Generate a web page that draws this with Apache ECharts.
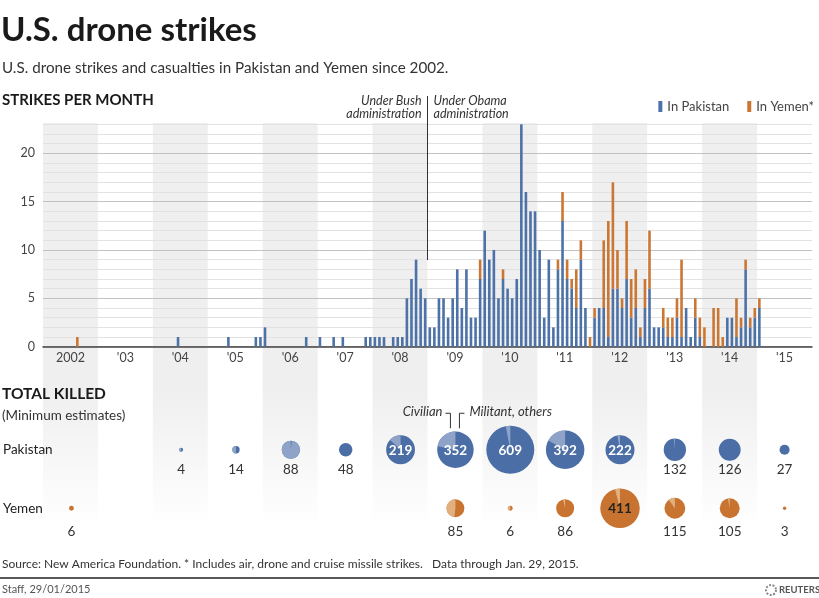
<!DOCTYPE html>
<html><head><meta charset="utf-8">
<script src="https://cdn.jsdelivr.net/npm/echarts@6/dist/echarts.min.js"></script>
<style>html,body{margin:0;padding:0;background:#fff}#c{width:819px;height:598px}</style>
</head><body><div id="c"></div>
<script>
// ---------- DATA ----------
const yearLabels = ['2002', "'03", "'04", "'05", "'06", "'07", "'08", "'09", "'10", "'11", "'12", "'13", "'14", "'15"];
// Strikes per month, Jan 2002 .. Dec 2015 (one row per year)
const pakistanStrikes = [
  0,0,0,0,0,0,0,0,0,0,0,0,        // 2002
  0,0,0,0,0,0,0,0,0,0,0,0,        // 2003
  0,0,0,0,0,1,0,0,0,0,0,0,        // 2004
  0,0,0,0,1,0,0,0,0,0,1,1,        // 2005
  2,0,0,0,0,0,0,0,0,1,0,0,        // 2006
  1,0,0,1,0,1,0,0,0,0,1,1,        // 2007
  1,1,1,0,1,1,1,5,7,9,6,5,        // 2008
  2,2,5,5,3,5,8,4,8,3,3,7,        // 2009
  12,9,10,5,7,6,5,7,23,16,14,14,  // 2010
  10,3,9,2,8,13,7,6,4,9,4,0,      // 2011
  3,4,4,1,6,6,4,7,3,4,1,4,        // 2012
  6,2,2,2,1,1,3,1,4,1,3,1,        // 2013
  0,0,0,0,0,3,3,1,2,8,2,3,        // 2014
  4,0,0,0,0,0,0,0,0,0,0,0         // 2015
];
const yemenStrikes = [
  0,0,0,0,0,0,0,1,0,0,0,0,        // 2002
  0,0,0,0,0,0,0,0,0,0,0,0,        // 2003
  0,0,0,0,0,0,0,0,0,0,0,0,        // 2004
  0,0,0,0,0,0,0,0,0,0,0,0,        // 2005
  0,0,0,0,0,0,0,0,0,0,0,0,        // 2006
  0,0,0,0,0,0,0,0,0,0,0,0,        // 2007
  0,0,0,0,0,0,0,0,0,0,0,0,        // 2008
  0,0,0,0,0,0,0,0,0,0,0,2,        // 2009
  0,0,0,0,1,0,0,0,0,0,0,0,        // 2010
  0,0,0,0,1,3,2,1,4,2,0,1,        // 2011
  1,0,7,12,11,4,1,6,4,4,1,3,      // 2012
  6,0,0,2,2,2,2,8,0,0,2,2,        // 2013
  2,0,4,4,1,0,0,4,1,1,1,1,        // 2014
  1,0,0,0,0,0,0,0,0,0,0,0         // 2015
];
const yTickLabels = [0, 5, 10, 15, 20];
// Total killed per year (minimum estimates) and civilian share
const killedRows = ['Pakistan', 'Yemen'];
const pakistanKilled   = [null, null, 4, 14, 88, 48, 219, 352, 609, 392, 222, 132, 126, 27];
const pakistanCivShare = [0, 0, 0.5, 0.5, 0.985, 0, 0.13, 0.22, 0.03, 0.17, 0.03, 0.015, 0, 0];
const yemenKilled      = [6, null, null, null, null, null, null, 85, 6, 86, 411, 115, 105, 3];
const yemenCivShare    = [0, 0, 0, 0, 0, 0, 0, 0.48, 0.5, 0.04, 0.04, 0.1, 0.03, 0];

// ---------- BUILD ----------
const monthCats = [];
for (let y = 2002; y <= 2015; y++) for (let m = 1; m <= 12; m++) monthCats.push(y + '-' + m);
const bandData = yearLabels.map((_, i) => (i % 2 === 0 ? 1 : 0));
const bubbleData = [];
pakistanKilled.forEach((v, i) => { if (v) bubbleData.push([i, 0, v, pakistanCivShare[i]]); });
yemenKilled.forEach((v, i) => { if (v) bubbleData.push([i, 1, v, yemenCivShare[i]]); });

const BLUE = '#4d72a8', ORANGE = '#cb7733';
const FONT = 'Lato, "Open Sans", sans-serif';
const L = 43, R = 7;

const chart = echarts.init(document.getElementById('c'), null, { renderer: 'canvas' });

const bandGrad = new echarts.graphic.LinearGradient(0, 0, 0, 1, [
  { offset: 0, color: '#efefef' }, { offset: 0.66, color: '#efefef' }, { offset: 1, color: '#ffffff' }
]);

chart.setOption({
  animation: false,
  textStyle: { fontFamily: FONT },
  grid: [
    { left: L, right: R, top: 123, bottom: 598 - 528 },   // bands
    { left: L, right: R, top: 124.3, bottom: 598 - 346.7 }, // bars
    { left: L, right: R, top: 420.5, height: 117 }          // bubbles
  ],
  legend: {
    data: ['In Pakistan', 'In Yemen*'], right: 0, top: 95, icon: 'rect',
    itemWidth: 4, itemHeight: 11, itemGap: 18,
    textStyle: { fontSize: 13, color: '#444', fontFamily: FONT }
  },
  xAxis: [
    { gridIndex: 0, type: 'category', data: yearLabels, show: false },
    { gridIndex: 1, type: 'category', data: monthCats, z: 3,
      axisLine: { lineStyle: { color: '#444', width: 1.5 } }, axisTick: { show: false }, axisLabel: { show: false } },
    { gridIndex: 1, type: 'category', data: yearLabels, position: 'bottom', z: 3,
      axisLine: { show: false }, axisTick: { show: false },
      axisLabel: { margin: 5, fontSize: 12.5, color: '#444', fontFamily: FONT } },
    { gridIndex: 2, type: 'category', data: yearLabels, show: false }
  ],
  yAxis: [
    { gridIndex: 0, type: 'value', min: 0, max: 1, show: false },
    { gridIndex: 1, type: 'value', min: 0, max: 23, interval: 1, z: 1, position: 'left',
      axisLine: { show: false }, axisTick: { show: false }, axisLabel: { show: false },
      splitLine: { lineStyle: { color: '#e2e2e2', width: 1 } } },
    { gridIndex: 1, type: 'value', min: 0, max: 23, interval: 5, z: 2, position: 'left',
      axisLine: { show: false }, axisTick: { show: false },
      axisLabel: { margin: 8, fontSize: 12.5, color: '#444', fontFamily: FONT,
        formatter: v => (yTickLabels.indexOf(v) >= 0 ? String(v) : '') },
      splitLine: { showMaxLine: false, lineStyle: { color: '#c2c2c2', width: 1 } } },
    { gridIndex: 2, type: 'category', data: killedRows, inverse: true, z: 3,
      axisLine: { show: false }, axisTick: { show: false },
      axisLabel: { align: 'left', margin: 41, fontSize: 13.5, color: '#222', fontFamily: FONT } }
  ],
  series: [
    { type: 'bar', name: 'bands', xAxisIndex: 0, yAxisIndex: 0, data: bandData, z: 0,
      barWidth: '100%', silent: true, itemStyle: { color: bandGrad } },
    { type: 'bar', name: 'In Pakistan', xAxisIndex: 1, yAxisIndex: 1, stack: 's', data: pakistanStrikes,
      barWidth: 2.6, itemStyle: { color: BLUE }, z: 5 },
    { type: 'bar', name: 'In Yemen*', xAxisIndex: 1, yAxisIndex: 1, stack: 's', data: yemenStrikes,
      barWidth: 2.6, itemStyle: { color: ORANGE }, z: 5 },
    { type: 'custom', name: 'killed', xAxisIndex: 3, yAxisIndex: 3, data: bubbleData, z: 5,
      renderItem: function (params, api) {
        const v = api.value(2), civ = api.value(3), row = api.value(1);
        const p = api.coord([api.value(0), row]);
        const r = 0.9725 * Math.sqrt(v);
        const dark = row === 0 ? '#4a6ea5' : '#c8732f';
        const light = row === 0 ? '#8fa3c8' : '#e2b07f';
        const ch = [{ type: 'circle', shape: { cx: p[0], cy: p[1], r: r }, style: { fill: dark } }];
        if (civ > 0) ch.push({ type: 'sector', shape: { cx: p[0], cy: p[1], r0: 0, r: r,
          startAngle: -Math.PI / 2 - civ * 2 * Math.PI, endAngle: -Math.PI / 2, clockwise: true },
          style: { fill: light } });
        if (r > 13) {
          ch.push({ type: 'text', style: { text: String(v), x: p[0], y: p[1] + 0.5, align: 'center', verticalAlign: 'middle',
            fill: row === 0 ? '#ffffff' : '#222222', font: 'bold 13.5px ' + FONT } });
        } else {
          ch.push({ type: 'text', style: { text: String(v), x: p[0], y: p[1] + (row === 0 ? 20 : 23), align: 'center', verticalAlign: 'middle',
            fill: '#333', font: '13.5px ' + FONT } });
        }
        return { type: 'group', children: ch };
      } }
  ]
});

// annotations positioned from the axes
const c08 = chart.convertToPixel({ xAxisIndex: 2 }, "'08");
const c09 = chart.convertToPixel({ xAxisIndex: 2 }, "'09");
const bx = (c08 + c09) / 2;
const b09 = chart.convertToPixel({ xAxisIndex: 3, yAxisIndex: 3 }, [7, 0]);
const bx9 = b09[0], by9 = b09[1] - 36.5;
const italic = 'italic 12.5px ' + FONT;
const Z = 100;
chart.setOption({
  graphic: [
    { type: 'text', z: Z, left: 1, top: 14, style: { text: 'U.S. drone strikes', font: 'bold 33px ' + FONT, fill: '#1a1a1a' } },
    { type: 'text', z: Z, left: 2, top: 61, style: { text: 'U.S. drone strikes and casualties in Pakistan and Yemen since 2002.', font: '15.2px ' + FONT, fill: '#333' } },
    { type: 'text', z: Z, left: 2, top: 93, style: { text: 'STRIKES PER MONTH', font: 'bold 15px ' + FONT, fill: '#1a1a1a' } },
    { type: 'text', z: Z, left: 2, top: 386, style: { text: 'TOTAL KILLED', font: 'bold 15.5px ' + FONT, fill: '#1a1a1a' } },
    { type: 'text', z: Z, left: 2, top: 409, style: { text: '(Minimum estimates)', font: '13.5px ' + FONT, fill: '#333' } },
    { type: 'line', z: Z, shape: { x1: bx, y1: 96, x2: bx, y2: 260 }, style: { stroke: '#333', lineWidth: 1 } },
    { type: 'text', z: Z, x: bx - 6, y: 95, style: { text: 'Under Bush\nadministration', align: 'right', font: italic, fill: '#333', lineHeight: 12.5 } },
    { type: 'text', z: Z, x: bx + 6, y: 95, style: { text: 'Under Obama\nadministration', align: 'left', font: italic, fill: '#333', lineHeight: 12.5 } },
    { type: 'polyline', z: Z, shape: { points: [[bx9 - 10, by9], [bx9 - 5, by9], [bx9 - 5, by9 + 15]] }, style: { stroke: '#333', lineWidth: 1, fill: null } },
    { type: 'polyline', z: Z, shape: { points: [[bx9 + 9, by9], [bx9 + 4, by9], [bx9 + 4, by9 + 15]] }, style: { stroke: '#333', lineWidth: 1, fill: null } },
    { type: 'text', z: Z, x: bx9 - 13, y: by9 - 1, style: { text: 'Civilian', align: 'right', verticalAlign: 'middle', font: 'italic 13px ' + FONT, fill: '#333' } },
    { type: 'text', z: Z, x: bx9 + 14, y: by9 - 1, style: { text: 'Militant, others', align: 'left', verticalAlign: 'middle', font: 'italic 13px ' + FONT, fill: '#333' } },
    { type: 'text', z: Z, left: 2, top: 558, style: { text: 'Source: New America Foundation. * Includes air, drone and cruise missile strikes.   Data through Jan. 29, 2015.', font: '12px ' + FONT, fill: '#333' } },
    { type: 'line', z: Z, shape: { x1: 0, y1: 578, x2: 819, y2: 578 }, style: { stroke: '#222', lineWidth: 1.5 } },
    { type: 'text', z: Z, left: 2, top: 584, style: { text: 'Staff, 29/01/2015', font: '11px ' + FONT, fill: '#555' } },
    { type: 'circle', z: Z, shape: { cx: 771, cy: 590, r: 5 }, style: { fill: null, stroke: '#888', lineWidth: 2, lineDash: [2, 1.5] } },
    { type: 'text', z: Z, left: 779, top: 585, style: { text: 'REUTERS', font: 'bold 9.5px ' + FONT, fill: '#555' } }
  ]
});
</script></body></html>
